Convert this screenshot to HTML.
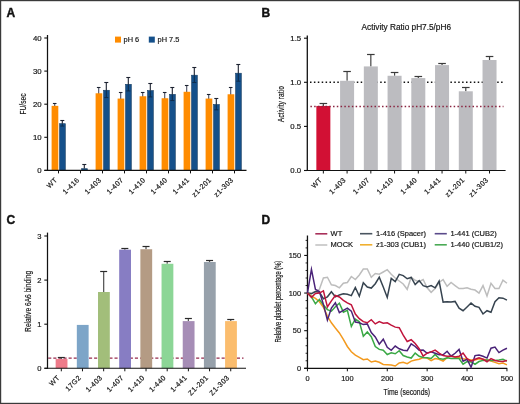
<!DOCTYPE html>
<html><head><meta charset="utf-8"><style>
html,body{margin:0;padding:0;background:#fff;}
body{width:520px;height:404px;overflow:hidden;}
svg{display:block;font-family:"Liberation Sans", sans-serif;filter:blur(0.3px);}
text{stroke:#111;stroke-width:0.18px;paint-order:stroke;}
.xl{letter-spacing:0.45px;}
</style></head><body>
<svg width="520" height="404" viewBox="0 0 520 404">
<rect x="0" y="0" width="520" height="404" fill="#fff"/>
<text x="6.6" y="16.6" font-size="12" text-anchor="start" fill="#111" font-weight="bold" style="stroke-width:0.4px">A</text>
<line x1="47.50" y1="35.00" x2="47.50" y2="170.90" stroke="#111" stroke-width="1.25"/>
<line x1="44.30" y1="170.40" x2="47.50" y2="170.40" stroke="#111" stroke-width="1.1"/>
<text x="41.6" y="173.20000000000002" font-size="7.8" text-anchor="end" fill="#161616" font-weight="normal">0</text>
<line x1="44.30" y1="137.30" x2="47.50" y2="137.30" stroke="#111" stroke-width="1.1"/>
<text x="41.6" y="140.10000000000002" font-size="7.8" text-anchor="end" fill="#161616" font-weight="normal">10</text>
<line x1="44.30" y1="104.20" x2="47.50" y2="104.20" stroke="#111" stroke-width="1.1"/>
<text x="41.6" y="107.0" font-size="7.8" text-anchor="end" fill="#161616" font-weight="normal">20</text>
<line x1="44.30" y1="71.10" x2="47.50" y2="71.10" stroke="#111" stroke-width="1.1"/>
<text x="41.6" y="73.9" font-size="7.8" text-anchor="end" fill="#161616" font-weight="normal">30</text>
<line x1="44.30" y1="38.00" x2="47.50" y2="38.00" stroke="#111" stroke-width="1.1"/>
<text x="41.6" y="40.8" font-size="7.8" text-anchor="end" fill="#161616" font-weight="normal">40</text>
<text x="0" y="0" font-size="9.0" text-anchor="middle" fill="#161616" font-weight="normal" transform="translate(26.0,104.0) rotate(-90) scale(0.74,1)">FU/sec</text>
<line x1="54.70" y1="103.87" x2="54.70" y2="106.86" stroke="#4a4e60" stroke-width="1.1"/>
<line x1="52.90" y1="103.50" x2="56.50" y2="103.50" stroke="#1c2230" stroke-width="1.1"/>
<rect x="51.60" y="105.86" width="6.70" height="64.55" fill="#ff8c00"/>
<rect x="59.60" y="123.70" width="5.70" height="46.70" fill="#15508a" stroke="#163c62" stroke-width="0.6"/>
<line x1="62.30" y1="120.75" x2="62.30" y2="123.40" stroke="#1c2230" stroke-width="1.1"/>
<line x1="62.30" y1="123.40" x2="62.30" y2="126.05" stroke="#0e2c4c" stroke-width="1.0"/>
<line x1="60.30" y1="126.05" x2="64.30" y2="126.05" stroke="#0e2c4c" stroke-width="1.0"/>
<line x1="60.30" y1="120.50" x2="64.30" y2="120.50" stroke="#1c2230" stroke-width="1.1"/>
<line x1="58.50" y1="170.40" x2="58.50" y2="173.40" stroke="#111" stroke-width="1.0"/>
<text x="0" y="0" font-size="7.1" text-anchor="end" fill="#161616" font-weight="normal" transform="translate(57.9,180.3) rotate(-45) scale(1.0,1)" class="xl">WT</text>
<rect x="81.60" y="168.71" width="5.70" height="1.69" fill="#15508a" stroke="#163c62" stroke-width="0.6"/>
<line x1="84.30" y1="164.44" x2="84.30" y2="168.41" stroke="#1c2230" stroke-width="1.1"/>
<line x1="82.30" y1="164.50" x2="86.30" y2="164.50" stroke="#1c2230" stroke-width="1.1"/>
<line x1="80.50" y1="170.40" x2="80.50" y2="173.40" stroke="#111" stroke-width="1.0"/>
<text x="0" y="0" font-size="7.1" text-anchor="end" fill="#161616" font-weight="normal" transform="translate(79.9,180.3) rotate(-45) scale(1.0,1)" class="xl">1-416</text>
<line x1="98.70" y1="87.32" x2="98.70" y2="94.28" stroke="#4a4e60" stroke-width="1.1"/>
<line x1="96.90" y1="87.50" x2="100.50" y2="87.50" stroke="#1c2230" stroke-width="1.1"/>
<rect x="95.60" y="93.28" width="6.70" height="77.12" fill="#ff8c00"/>
<rect x="103.60" y="90.27" width="5.70" height="80.13" fill="#15508a" stroke="#163c62" stroke-width="0.6"/>
<line x1="106.30" y1="82.35" x2="106.30" y2="89.97" stroke="#1c2230" stroke-width="1.1"/>
<line x1="106.30" y1="89.97" x2="106.30" y2="97.58" stroke="#0e2c4c" stroke-width="1.0"/>
<line x1="104.30" y1="97.58" x2="108.30" y2="97.58" stroke="#0e2c4c" stroke-width="1.0"/>
<line x1="104.30" y1="82.50" x2="108.30" y2="82.50" stroke="#1c2230" stroke-width="1.1"/>
<line x1="102.50" y1="170.40" x2="102.50" y2="173.40" stroke="#111" stroke-width="1.0"/>
<text x="0" y="0" font-size="7.1" text-anchor="end" fill="#161616" font-weight="normal" transform="translate(101.9,180.3) rotate(-45) scale(1.0,1)" class="xl">1-403</text>
<line x1="120.70" y1="92.95" x2="120.70" y2="99.57" stroke="#4a4e60" stroke-width="1.1"/>
<line x1="118.90" y1="92.50" x2="122.50" y2="92.50" stroke="#1c2230" stroke-width="1.1"/>
<rect x="117.60" y="98.57" width="6.70" height="71.83" fill="#ff8c00"/>
<rect x="125.60" y="84.31" width="5.70" height="86.09" fill="#15508a" stroke="#163c62" stroke-width="0.6"/>
<line x1="128.30" y1="77.06" x2="128.30" y2="84.01" stroke="#1c2230" stroke-width="1.1"/>
<line x1="128.30" y1="84.01" x2="128.30" y2="90.96" stroke="#0e2c4c" stroke-width="1.0"/>
<line x1="126.30" y1="90.96" x2="130.30" y2="90.96" stroke="#0e2c4c" stroke-width="1.0"/>
<line x1="126.30" y1="77.50" x2="130.30" y2="77.50" stroke="#1c2230" stroke-width="1.1"/>
<line x1="124.50" y1="170.40" x2="124.50" y2="173.40" stroke="#111" stroke-width="1.0"/>
<text x="0" y="0" font-size="7.1" text-anchor="end" fill="#161616" font-weight="normal" transform="translate(123.9,180.3) rotate(-45) scale(1.0,1)" class="xl">1-407</text>
<line x1="142.70" y1="92.78" x2="142.70" y2="97.26" stroke="#4a4e60" stroke-width="1.1"/>
<line x1="140.90" y1="92.50" x2="144.50" y2="92.50" stroke="#1c2230" stroke-width="1.1"/>
<rect x="139.60" y="96.26" width="6.70" height="74.14" fill="#ff8c00"/>
<rect x="147.60" y="90.60" width="5.70" height="79.80" fill="#15508a" stroke="#163c62" stroke-width="0.6"/>
<line x1="150.30" y1="83.68" x2="150.30" y2="90.30" stroke="#1c2230" stroke-width="1.1"/>
<line x1="150.30" y1="90.30" x2="150.30" y2="96.92" stroke="#0e2c4c" stroke-width="1.0"/>
<line x1="148.30" y1="96.92" x2="152.30" y2="96.92" stroke="#0e2c4c" stroke-width="1.0"/>
<line x1="148.30" y1="83.50" x2="152.30" y2="83.50" stroke="#1c2230" stroke-width="1.1"/>
<line x1="146.50" y1="170.40" x2="146.50" y2="173.40" stroke="#111" stroke-width="1.0"/>
<text x="0" y="0" font-size="7.1" text-anchor="end" fill="#161616" font-weight="normal" transform="translate(145.9,180.3) rotate(-45) scale(1.0,1)" class="xl">1-410</text>
<line x1="164.70" y1="92.95" x2="164.70" y2="99.24" stroke="#4a4e60" stroke-width="1.1"/>
<line x1="162.90" y1="92.50" x2="166.50" y2="92.50" stroke="#1c2230" stroke-width="1.1"/>
<rect x="161.60" y="98.24" width="6.70" height="72.16" fill="#ff8c00"/>
<rect x="169.60" y="94.40" width="5.70" height="76.00" fill="#15508a" stroke="#163c62" stroke-width="0.6"/>
<line x1="172.30" y1="87.65" x2="172.30" y2="94.10" stroke="#1c2230" stroke-width="1.1"/>
<line x1="172.30" y1="94.10" x2="172.30" y2="100.56" stroke="#0e2c4c" stroke-width="1.0"/>
<line x1="170.30" y1="100.56" x2="174.30" y2="100.56" stroke="#0e2c4c" stroke-width="1.0"/>
<line x1="170.30" y1="87.50" x2="174.30" y2="87.50" stroke="#1c2230" stroke-width="1.1"/>
<line x1="168.50" y1="170.40" x2="168.50" y2="173.40" stroke="#111" stroke-width="1.0"/>
<text x="0" y="0" font-size="7.1" text-anchor="end" fill="#161616" font-weight="normal" transform="translate(167.9,180.3) rotate(-45) scale(1.0,1)" class="xl">1-440</text>
<line x1="186.70" y1="85.66" x2="186.70" y2="92.79" stroke="#4a4e60" stroke-width="1.1"/>
<line x1="184.90" y1="85.50" x2="188.50" y2="85.50" stroke="#1c2230" stroke-width="1.1"/>
<rect x="183.60" y="91.79" width="6.70" height="78.61" fill="#ff8c00"/>
<rect x="191.60" y="75.21" width="5.70" height="95.19" fill="#15508a" stroke="#163c62" stroke-width="0.6"/>
<line x1="194.30" y1="67.29" x2="194.30" y2="74.91" stroke="#1c2230" stroke-width="1.1"/>
<line x1="194.30" y1="74.91" x2="194.30" y2="82.52" stroke="#0e2c4c" stroke-width="1.0"/>
<line x1="192.30" y1="82.52" x2="196.30" y2="82.52" stroke="#0e2c4c" stroke-width="1.0"/>
<line x1="192.30" y1="67.50" x2="196.30" y2="67.50" stroke="#1c2230" stroke-width="1.1"/>
<line x1="190.50" y1="170.40" x2="190.50" y2="173.40" stroke="#111" stroke-width="1.0"/>
<text x="0" y="0" font-size="7.1" text-anchor="end" fill="#161616" font-weight="normal" transform="translate(189.9,180.3) rotate(-45) scale(1.0,1)" class="xl">1-441</text>
<line x1="208.70" y1="94.60" x2="208.70" y2="99.57" stroke="#4a4e60" stroke-width="1.1"/>
<line x1="206.90" y1="94.50" x2="210.50" y2="94.50" stroke="#1c2230" stroke-width="1.1"/>
<rect x="205.60" y="98.57" width="6.70" height="71.83" fill="#ff8c00"/>
<rect x="213.60" y="104.50" width="5.70" height="65.90" fill="#15508a" stroke="#163c62" stroke-width="0.6"/>
<line x1="216.30" y1="98.57" x2="216.30" y2="104.20" stroke="#1c2230" stroke-width="1.1"/>
<line x1="216.30" y1="104.20" x2="216.30" y2="109.83" stroke="#0e2c4c" stroke-width="1.0"/>
<line x1="214.30" y1="109.83" x2="218.30" y2="109.83" stroke="#0e2c4c" stroke-width="1.0"/>
<line x1="214.30" y1="98.50" x2="218.30" y2="98.50" stroke="#1c2230" stroke-width="1.1"/>
<line x1="212.50" y1="170.40" x2="212.50" y2="173.40" stroke="#111" stroke-width="1.0"/>
<text x="0" y="0" font-size="7.1" text-anchor="end" fill="#161616" font-weight="normal" transform="translate(211.9,180.3) rotate(-45) scale(1.0,1)" class="xl">z1-201</text>
<line x1="230.70" y1="87.82" x2="230.70" y2="95.27" stroke="#4a4e60" stroke-width="1.1"/>
<line x1="228.90" y1="87.50" x2="232.50" y2="87.50" stroke="#1c2230" stroke-width="1.1"/>
<rect x="227.60" y="94.27" width="6.70" height="76.13" fill="#ff8c00"/>
<rect x="235.60" y="73.22" width="5.70" height="97.18" fill="#15508a" stroke="#163c62" stroke-width="0.6"/>
<line x1="238.30" y1="64.65" x2="238.30" y2="72.92" stroke="#1c2230" stroke-width="1.1"/>
<line x1="238.30" y1="72.92" x2="238.30" y2="81.20" stroke="#0e2c4c" stroke-width="1.0"/>
<line x1="236.30" y1="81.20" x2="240.30" y2="81.20" stroke="#0e2c4c" stroke-width="1.0"/>
<line x1="236.30" y1="64.50" x2="240.30" y2="64.50" stroke="#1c2230" stroke-width="1.1"/>
<line x1="234.50" y1="170.40" x2="234.50" y2="173.40" stroke="#111" stroke-width="1.0"/>
<text x="0" y="0" font-size="7.1" text-anchor="end" fill="#161616" font-weight="normal" transform="translate(233.9,180.3) rotate(-45) scale(1.0,1)" class="xl">z1-303</text>
<line x1="44.40" y1="170.40" x2="246.50" y2="170.40" stroke="#111" stroke-width="1.1"/>
<rect x="115.00" y="36.60" width="6.00" height="6.00" fill="#ff8c00"/>
<text x="123.6" y="42.2" font-size="7.4" text-anchor="start" fill="#161616" font-weight="normal">pH 6</text>
<rect x="148.80" y="36.60" width="6.00" height="6.00" fill="#15508a"/>
<text x="157.6" y="42.2" font-size="7.4" text-anchor="start" fill="#161616" font-weight="normal">pH 7.5</text>
<text x="261.4" y="16.6" font-size="12" text-anchor="start" fill="#111" font-weight="bold" style="stroke-width:0.4px">B</text>
<text x="361.6" y="29.9" font-size="8.25" text-anchor="start" fill="#161616" font-weight="normal">Activity Ratio pH7.5/pH6</text>
<line x1="310.00" y1="82.20" x2="503.50" y2="82.20" stroke="#111" stroke-width="1.5" stroke-dasharray="1.5 2.4"/>
<line x1="323.35" y1="104.00" x2="323.35" y2="105.94" stroke="#444" stroke-width="1.2"/>
<line x1="319.55" y1="103.50" x2="327.15" y2="103.50" stroke="#3a3a3a" stroke-width="1.2"/>
<rect x="316.35" y="105.94" width="14.00" height="64.56" fill="#d21034"/>
<line x1="323.35" y1="170.50" x2="323.35" y2="173.50" stroke="#111" stroke-width="1.0"/>
<text x="0" y="0" font-size="7.1" text-anchor="end" fill="#161616" font-weight="normal" transform="translate(322.75,180.3) rotate(-45) scale(1.0,1)" class="xl">WT</text>
<line x1="347.09" y1="71.27" x2="347.09" y2="80.80" stroke="#444" stroke-width="1.2"/>
<line x1="343.29" y1="71.50" x2="350.89" y2="71.50" stroke="#3a3a3a" stroke-width="1.2"/>
<rect x="340.09" y="80.80" width="14.00" height="89.70" fill="#bcbcc0"/>
<line x1="347.09" y1="170.50" x2="347.09" y2="173.50" stroke="#111" stroke-width="1.0"/>
<text x="0" y="0" font-size="7.1" text-anchor="end" fill="#161616" font-weight="normal" transform="translate(346.49,180.3) rotate(-45) scale(1.0,1)" class="xl">1-403</text>
<line x1="370.83" y1="54.69" x2="370.83" y2="66.42" stroke="#444" stroke-width="1.2"/>
<line x1="367.03" y1="54.50" x2="374.63" y2="54.50" stroke="#3a3a3a" stroke-width="1.2"/>
<rect x="363.83" y="66.42" width="14.00" height="104.08" fill="#bcbcc0"/>
<line x1="370.83" y1="170.50" x2="370.83" y2="173.50" stroke="#111" stroke-width="1.0"/>
<text x="0" y="0" font-size="7.1" text-anchor="end" fill="#161616" font-weight="normal" transform="translate(370.23,180.3) rotate(-45) scale(1.0,1)" class="xl">1-407</text>
<line x1="394.57" y1="72.69" x2="394.57" y2="75.77" stroke="#444" stroke-width="1.2"/>
<line x1="390.77" y1="72.50" x2="398.37" y2="72.50" stroke="#3a3a3a" stroke-width="1.2"/>
<rect x="387.57" y="75.77" width="14.00" height="94.73" fill="#bcbcc0"/>
<line x1="394.57" y1="170.50" x2="394.57" y2="173.50" stroke="#111" stroke-width="1.0"/>
<text x="0" y="0" font-size="7.1" text-anchor="end" fill="#161616" font-weight="normal" transform="translate(393.97,180.3) rotate(-45) scale(1.0,1)" class="xl">1-410</text>
<line x1="418.31" y1="76.57" x2="418.31" y2="78.07" stroke="#444" stroke-width="1.2"/>
<line x1="414.51" y1="76.50" x2="422.11" y2="76.50" stroke="#3a3a3a" stroke-width="1.2"/>
<rect x="411.31" y="78.07" width="14.00" height="92.43" fill="#bcbcc0"/>
<line x1="418.31" y1="170.50" x2="418.31" y2="173.50" stroke="#111" stroke-width="1.0"/>
<text x="0" y="0" font-size="7.1" text-anchor="end" fill="#161616" font-weight="normal" transform="translate(417.71,180.3) rotate(-45) scale(1.0,1)" class="xl">1-440</text>
<line x1="442.05" y1="63.51" x2="442.05" y2="65.10" stroke="#444" stroke-width="1.2"/>
<line x1="438.25" y1="63.50" x2="445.85" y2="63.50" stroke="#3a3a3a" stroke-width="1.2"/>
<rect x="435.05" y="65.10" width="14.00" height="105.40" fill="#bcbcc0"/>
<line x1="442.05" y1="170.50" x2="442.05" y2="173.50" stroke="#111" stroke-width="1.0"/>
<text x="0" y="0" font-size="7.1" text-anchor="end" fill="#161616" font-weight="normal" transform="translate(441.45,180.3) rotate(-45) scale(1.0,1)" class="xl">1-441</text>
<line x1="465.79" y1="87.42" x2="465.79" y2="91.30" stroke="#444" stroke-width="1.2"/>
<line x1="461.99" y1="87.50" x2="469.59" y2="87.50" stroke="#3a3a3a" stroke-width="1.2"/>
<rect x="458.79" y="91.30" width="14.00" height="79.20" fill="#bcbcc0"/>
<line x1="465.79" y1="170.50" x2="465.79" y2="173.50" stroke="#111" stroke-width="1.0"/>
<text x="0" y="0" font-size="7.1" text-anchor="end" fill="#161616" font-weight="normal" transform="translate(465.19,180.3) rotate(-45) scale(1.0,1)" class="xl">z1-201</text>
<line x1="489.53" y1="56.99" x2="489.53" y2="59.99" stroke="#444" stroke-width="1.2"/>
<line x1="485.73" y1="56.50" x2="493.33" y2="56.50" stroke="#3a3a3a" stroke-width="1.2"/>
<rect x="482.53" y="59.99" width="14.00" height="110.51" fill="#bcbcc0"/>
<line x1="489.53" y1="170.50" x2="489.53" y2="173.50" stroke="#111" stroke-width="1.0"/>
<text x="0" y="0" font-size="7.1" text-anchor="end" fill="#161616" font-weight="normal" transform="translate(488.92999999999995,180.3) rotate(-45) scale(1.0,1)" class="xl">z1-303</text>
<line x1="310.40" y1="106.50" x2="503.50" y2="106.50" stroke="#8a2440" stroke-width="1.5" stroke-dasharray="1.5 2.27"/>
<line x1="307.30" y1="35.40" x2="307.30" y2="171.00" stroke="#111" stroke-width="1.3"/>
<line x1="304.00" y1="170.50" x2="307.30" y2="170.50" stroke="#111" stroke-width="1.1"/>
<text x="301.2" y="173.3" font-size="7.8" text-anchor="end" fill="#161616" font-weight="normal">0.0</text>
<line x1="304.00" y1="126.40" x2="307.30" y2="126.40" stroke="#111" stroke-width="1.1"/>
<text x="301.2" y="129.20000000000002" font-size="7.8" text-anchor="end" fill="#161616" font-weight="normal">0.5</text>
<line x1="304.00" y1="82.30" x2="307.30" y2="82.30" stroke="#111" stroke-width="1.1"/>
<text x="301.2" y="85.1" font-size="7.8" text-anchor="end" fill="#161616" font-weight="normal">1.0</text>
<line x1="304.00" y1="38.20" x2="307.30" y2="38.20" stroke="#111" stroke-width="1.1"/>
<text x="301.2" y="40.999999999999986" font-size="7.8" text-anchor="end" fill="#161616" font-weight="normal">1.5</text>
<line x1="304.00" y1="170.50" x2="505.60" y2="170.50" stroke="#111" stroke-width="1.1"/>
<text x="0" y="0" font-size="9.0" text-anchor="middle" fill="#161616" font-weight="normal" transform="translate(284.2,104.2) rotate(-90) scale(0.75,1)">Activity ratio</text>
<text x="6.6" y="223.8" font-size="12" text-anchor="start" fill="#111" font-weight="bold" style="stroke-width:0.4px">C</text>
<line x1="48.20" y1="358.10" x2="243.50" y2="358.10" stroke="#962a4c" stroke-width="1.3" stroke-dasharray="3.1 2.0"/>
<line x1="61.30" y1="357.72" x2="61.30" y2="359.04" stroke="#5a5a5a" stroke-width="1.3"/>
<line x1="57.80" y1="357.50" x2="64.80" y2="357.50" stroke="#2a2a2a" stroke-width="1.2"/>
<rect x="55.65" y="359.04" width="11.80" height="9.26" fill="#ee7b8a"/>
<line x1="61.30" y1="368.30" x2="61.30" y2="371.30" stroke="#111" stroke-width="1.0"/>
<text x="0" y="0" font-size="7.1" text-anchor="end" fill="#161616" font-weight="normal" transform="translate(60.5,378.1) rotate(-45) scale(1.0,1)" class="xl">WT</text>
<rect x="76.83" y="324.91" width="11.80" height="43.39" fill="#7da5c8"/>
<line x1="82.48" y1="368.30" x2="82.48" y2="371.30" stroke="#111" stroke-width="1.0"/>
<text x="0" y="0" font-size="7.1" text-anchor="end" fill="#161616" font-weight="normal" transform="translate(81.67999999999999,378.1) rotate(-45) scale(1.0,1)" class="xl">17G2</text>
<line x1="103.66" y1="271.28" x2="103.66" y2="292.01" stroke="#5a5a5a" stroke-width="1.3"/>
<line x1="100.16" y1="271.50" x2="107.16" y2="271.50" stroke="#2a2a2a" stroke-width="1.2"/>
<rect x="98.01" y="292.01" width="11.80" height="76.29" fill="#a2be7a"/>
<line x1="103.66" y1="368.30" x2="103.66" y2="371.30" stroke="#111" stroke-width="1.0"/>
<text x="0" y="0" font-size="7.1" text-anchor="end" fill="#161616" font-weight="normal" transform="translate(102.86,378.1) rotate(-45) scale(1.0,1)" class="xl">1-403</text>
<line x1="124.84" y1="248.13" x2="124.84" y2="249.67" stroke="#5a5a5a" stroke-width="1.3"/>
<line x1="121.34" y1="248.50" x2="128.34" y2="248.50" stroke="#2a2a2a" stroke-width="1.2"/>
<rect x="119.19" y="249.67" width="11.80" height="118.63" fill="#877dc3"/>
<line x1="124.84" y1="368.30" x2="124.84" y2="371.30" stroke="#111" stroke-width="1.0"/>
<text x="0" y="0" font-size="7.1" text-anchor="end" fill="#161616" font-weight="normal" transform="translate(124.04,378.1) rotate(-45) scale(1.0,1)" class="xl">1-407</text>
<line x1="146.02" y1="246.58" x2="146.02" y2="249.23" stroke="#5a5a5a" stroke-width="1.3"/>
<line x1="142.52" y1="246.50" x2="149.52" y2="246.50" stroke="#2a2a2a" stroke-width="1.2"/>
<rect x="140.37" y="249.23" width="11.80" height="119.07" fill="#b49b84"/>
<line x1="146.02" y1="368.30" x2="146.02" y2="371.30" stroke="#111" stroke-width="1.0"/>
<text x="0" y="0" font-size="7.1" text-anchor="end" fill="#161616" font-weight="normal" transform="translate(145.21999999999997,378.1) rotate(-45) scale(1.0,1)" class="xl">1-410</text>
<line x1="167.20" y1="261.58" x2="167.20" y2="263.78" stroke="#5a5a5a" stroke-width="1.3"/>
<line x1="163.70" y1="261.50" x2="170.70" y2="261.50" stroke="#2a2a2a" stroke-width="1.2"/>
<rect x="161.55" y="263.78" width="11.80" height="104.52" fill="#8cd696"/>
<line x1="167.20" y1="368.30" x2="167.20" y2="371.30" stroke="#111" stroke-width="1.0"/>
<text x="0" y="0" font-size="7.1" text-anchor="end" fill="#161616" font-weight="normal" transform="translate(166.39999999999998,378.1) rotate(-45) scale(1.0,1)" class="xl">1-440</text>
<line x1="188.38" y1="318.03" x2="188.38" y2="321.11" stroke="#5a5a5a" stroke-width="1.3"/>
<line x1="184.88" y1="318.50" x2="191.88" y2="318.50" stroke="#2a2a2a" stroke-width="1.2"/>
<rect x="182.73" y="321.11" width="11.80" height="47.19" fill="#a68db6"/>
<line x1="188.38" y1="368.30" x2="188.38" y2="371.30" stroke="#111" stroke-width="1.0"/>
<text x="0" y="0" font-size="7.1" text-anchor="end" fill="#161616" font-weight="normal" transform="translate(187.57999999999998,378.1) rotate(-45) scale(1.0,1)" class="xl">1-441</text>
<line x1="209.56" y1="260.25" x2="209.56" y2="262.02" stroke="#5a5a5a" stroke-width="1.3"/>
<line x1="206.06" y1="260.50" x2="213.06" y2="260.50" stroke="#2a2a2a" stroke-width="1.2"/>
<rect x="203.91" y="262.02" width="11.80" height="106.28" fill="#97a1ab"/>
<line x1="209.56" y1="368.30" x2="209.56" y2="371.30" stroke="#111" stroke-width="1.0"/>
<text x="0" y="0" font-size="7.1" text-anchor="end" fill="#161616" font-weight="normal" transform="translate(208.76,378.1) rotate(-45) scale(1.0,1)" class="xl">Z1-201</text>
<line x1="230.74" y1="319.35" x2="230.74" y2="321.11" stroke="#5a5a5a" stroke-width="1.3"/>
<line x1="227.24" y1="319.50" x2="234.24" y2="319.50" stroke="#2a2a2a" stroke-width="1.2"/>
<rect x="225.09" y="321.11" width="11.80" height="47.19" fill="#fbbd6e"/>
<line x1="230.74" y1="368.30" x2="230.74" y2="371.30" stroke="#111" stroke-width="1.0"/>
<text x="0" y="0" font-size="7.1" text-anchor="end" fill="#161616" font-weight="normal" transform="translate(229.94,378.1) rotate(-45) scale(1.0,1)" class="xl">Z1-303</text>
<line x1="47.50" y1="232.60" x2="47.50" y2="368.80" stroke="#111" stroke-width="1.25"/>
<line x1="44.30" y1="368.30" x2="47.50" y2="368.30" stroke="#111" stroke-width="1.1"/>
<text x="41.4" y="371.0" font-size="7.6" text-anchor="end" fill="#161616" font-weight="normal">0</text>
<line x1="44.30" y1="324.20" x2="47.50" y2="324.20" stroke="#111" stroke-width="1.1"/>
<text x="41.4" y="326.9" font-size="7.6" text-anchor="end" fill="#161616" font-weight="normal">1</text>
<line x1="44.30" y1="280.10" x2="47.50" y2="280.10" stroke="#111" stroke-width="1.1"/>
<text x="41.4" y="282.8" font-size="7.6" text-anchor="end" fill="#161616" font-weight="normal">2</text>
<line x1="44.30" y1="236.00" x2="47.50" y2="236.00" stroke="#111" stroke-width="1.1"/>
<text x="41.4" y="238.7" font-size="7.6" text-anchor="end" fill="#161616" font-weight="normal">3</text>
<line x1="44.50" y1="368.30" x2="246.00" y2="368.30" stroke="#111" stroke-width="1.1"/>
<text x="0" y="0" font-size="9.0" text-anchor="middle" fill="#161616" font-weight="normal" transform="translate(30.9,301.4) rotate(-90) scale(0.74,1)">Relative 6A6 binding</text>
<text x="261.6" y="223.7" font-size="12" text-anchor="start" fill="#111" font-weight="bold" style="stroke-width:0.4px">D</text>
<line x1="307.45" y1="235.50" x2="307.45" y2="368.80" stroke="#111" stroke-width="1.3"/>
<line x1="304.20" y1="368.30" x2="307.45" y2="368.30" stroke="#111" stroke-width="1.1"/>
<text x="301.0" y="370.90000000000003" font-size="7.4" text-anchor="end" fill="#161616" font-weight="normal">0</text>
<line x1="305.60" y1="360.78" x2="307.45" y2="360.78" stroke="#111" stroke-width="0.9"/>
<line x1="305.60" y1="353.25" x2="307.45" y2="353.25" stroke="#111" stroke-width="0.9"/>
<line x1="305.60" y1="345.73" x2="307.45" y2="345.73" stroke="#111" stroke-width="0.9"/>
<line x1="305.60" y1="338.20" x2="307.45" y2="338.20" stroke="#111" stroke-width="0.9"/>
<line x1="304.20" y1="330.68" x2="307.45" y2="330.68" stroke="#111" stroke-width="1.1"/>
<text x="301.0" y="333.27500000000003" font-size="7.4" text-anchor="end" fill="#161616" font-weight="normal">50</text>
<line x1="305.60" y1="323.15" x2="307.45" y2="323.15" stroke="#111" stroke-width="0.9"/>
<line x1="305.60" y1="315.62" x2="307.45" y2="315.62" stroke="#111" stroke-width="0.9"/>
<line x1="305.60" y1="308.10" x2="307.45" y2="308.10" stroke="#111" stroke-width="0.9"/>
<line x1="305.60" y1="300.58" x2="307.45" y2="300.58" stroke="#111" stroke-width="0.9"/>
<line x1="304.20" y1="293.05" x2="307.45" y2="293.05" stroke="#111" stroke-width="1.1"/>
<text x="301.0" y="295.65000000000003" font-size="7.4" text-anchor="end" fill="#161616" font-weight="normal">100</text>
<line x1="305.60" y1="285.53" x2="307.45" y2="285.53" stroke="#111" stroke-width="0.9"/>
<line x1="305.60" y1="278.00" x2="307.45" y2="278.00" stroke="#111" stroke-width="0.9"/>
<line x1="305.60" y1="270.48" x2="307.45" y2="270.48" stroke="#111" stroke-width="0.9"/>
<line x1="305.60" y1="262.95" x2="307.45" y2="262.95" stroke="#111" stroke-width="0.9"/>
<line x1="304.20" y1="255.43" x2="307.45" y2="255.43" stroke="#111" stroke-width="1.1"/>
<text x="301.0" y="258.02500000000003" font-size="7.4" text-anchor="end" fill="#161616" font-weight="normal">150</text>
<line x1="305.60" y1="247.90" x2="307.45" y2="247.90" stroke="#111" stroke-width="0.9"/>
<line x1="305.60" y1="240.38" x2="307.45" y2="240.38" stroke="#111" stroke-width="0.9"/>
<line x1="304.20" y1="368.30" x2="507.20" y2="368.30" stroke="#111" stroke-width="1.2"/>
<line x1="307.45" y1="368.30" x2="307.45" y2="371.30" stroke="#111" stroke-width="1.0"/>
<text x="307.45" y="381.4" font-size="7.4" text-anchor="middle" fill="#161616" font-weight="normal">0</text>
<line x1="347.35" y1="368.30" x2="347.35" y2="371.30" stroke="#111" stroke-width="1.0"/>
<text x="347.35" y="381.4" font-size="7.4" text-anchor="middle" fill="#161616" font-weight="normal">100</text>
<line x1="387.25" y1="368.30" x2="387.25" y2="371.30" stroke="#111" stroke-width="1.0"/>
<text x="387.25" y="381.4" font-size="7.4" text-anchor="middle" fill="#161616" font-weight="normal">200</text>
<line x1="427.15" y1="368.30" x2="427.15" y2="371.30" stroke="#111" stroke-width="1.0"/>
<text x="427.15" y="381.4" font-size="7.4" text-anchor="middle" fill="#161616" font-weight="normal">300</text>
<line x1="467.05" y1="368.30" x2="467.05" y2="371.30" stroke="#111" stroke-width="1.0"/>
<text x="467.05" y="381.4" font-size="7.4" text-anchor="middle" fill="#161616" font-weight="normal">400</text>
<line x1="506.95" y1="368.30" x2="506.95" y2="371.30" stroke="#111" stroke-width="1.0"/>
<text x="506.95" y="381.4" font-size="7.4" text-anchor="middle" fill="#161616" font-weight="normal">500</text>
<text x="0" y="0" font-size="9.0" text-anchor="middle" fill="#161616" font-weight="normal" transform="translate(406.8,394.5) rotate(0) scale(0.755,1)">Time (seconds)</text>
<text x="0" y="0" font-size="8.6" text-anchor="middle" fill="#161616" font-weight="normal" transform="translate(281.2,301.7) rotate(-90) scale(0.67,1)">Relative platelet percentage (%)</text>
<polyline points="307.45,293.05 311.44,293.05 315.43,291.55 319.42,289.29 323.41,278.00 327.40,277.25 331.39,284.77 335.38,285.53 339.37,287.78 343.36,283.27 347.35,282.51 351.34,276.50 355.33,279.50 359.32,274.99 363.31,268.97 367.30,268.97 371.29,277.25 375.28,273.49 379.27,274.24 383.26,271.98 387.25,269.72 391.24,274.24 395.23,278.00 399.22,281.01 403.21,284.02 407.20,289.29 411.19,277.25 415.18,280.26 419.17,281.76 423.16,279.50 427.15,287.78 431.14,292.30 435.13,288.54 439.12,282.51 443.11,279.50 447.10,286.28 451.09,282.51 455.08,285.53 459.07,288.54 463.06,288.54 467.05,287.78 471.04,289.29 475.03,290.04 479.02,293.05 483.01,285.53 487.00,296.06 490.99,283.27 494.98,288.54 498.97,288.54 502.96,280.26 506.95,283.27" fill="none" stroke="#bdbdbd" stroke-width="1.5" stroke-linejoin="miter" stroke-miterlimit="6"/>
<polyline points="307.45,293.05 311.44,293.80 315.43,291.55 319.42,292.30 323.41,298.69 327.40,296.81 331.39,291.77 335.38,296.81 339.37,294.93 343.36,293.80 347.35,294.33 351.34,295.61 355.33,287.48 359.32,296.21 363.31,282.82 367.30,287.03 371.29,288.08 375.28,283.72 379.27,277.10 383.26,287.03 387.25,297.41 391.24,278.38 395.23,281.61 399.22,274.39 403.21,275.59 407.20,278.75 411.19,277.47 415.18,284.62 419.17,280.63 423.16,285.60 427.15,287.03 431.14,285.53 435.13,287.78 439.12,281.01 443.11,302.08 447.10,301.70 451.09,302.08 455.08,301.40 459.07,308.25 463.06,310.73 467.05,306.97 471.04,303.06 475.03,306.29 479.02,307.35 483.01,313.97 487.00,310.73 490.99,312.31 494.98,301.78 498.97,297.72 502.96,298.17 506.95,300.12" fill="none" stroke="#36434f" stroke-width="1.5" stroke-linejoin="miter" stroke-miterlimit="6"/>
<polyline points="307.45,293.05 311.44,296.14 315.43,298.32 319.42,301.70 323.41,307.20 327.40,316.08 331.39,322.77 335.38,328.04 339.37,332.93 343.36,339.33 347.35,346.48 351.34,351.75 355.33,355.13 359.32,357.46 363.31,359.72 367.30,358.97 371.29,362.05 375.28,360.93 379.27,362.28 383.26,364.39 387.25,364.69 391.24,364.91 395.23,366.04 399.22,362.96 403.21,362.28 407.20,363.63 411.19,361.15 415.18,359.95 419.17,359.27 423.16,357.46 427.15,358.07 431.14,360.55 435.13,358.52 439.12,359.27 443.11,361.15 447.10,357.76 451.09,355.58 455.08,357.01 459.07,357.76 463.06,358.67 467.05,359.27 471.04,360.02 475.03,360.02 479.02,358.67 483.01,359.27 487.00,360.02 490.99,361.15 494.98,362.36 498.97,363.63 502.96,363.03 506.95,364.84" fill="none" stroke="#f39a1e" stroke-width="1.5" stroke-linejoin="miter" stroke-miterlimit="6"/>
<polyline points="307.45,293.05 311.44,296.81 315.43,303.81 319.42,299.37 323.41,305.09 327.40,309.61 331.39,311.19 335.38,306.75 339.37,303.28 343.36,312.16 347.35,310.21 351.34,326.39 355.33,319.01 359.32,321.65 363.31,336.24 367.30,331.95 371.29,336.69 375.28,346.63 379.27,349.41 383.26,350.24 387.25,354.53 391.24,352.87 395.23,353.78 399.22,350.69 403.21,355.58 407.20,357.01 411.19,358.07 415.18,353.10 419.17,356.26 423.16,357.46 427.15,357.76 431.14,358.52 435.13,354.38 439.12,358.52 443.11,359.27 447.10,357.76 451.09,358.52 455.08,358.52 459.07,358.52 463.06,364.24 467.05,361.53 471.04,361.90 475.03,364.24 479.02,361.53 483.01,360.40 487.00,360.02 490.99,360.40 494.98,360.40 498.97,360.02 502.96,359.35 506.95,361.15" fill="none" stroke="#3aa845" stroke-width="1.5" stroke-linejoin="miter" stroke-miterlimit="6"/>
<polyline points="307.45,293.05 311.44,269.35 315.43,289.29 319.42,291.55 323.41,304.34 327.40,320.14 331.39,308.10 335.38,302.83 339.37,312.62 343.36,310.36 347.35,308.10 351.34,311.11 355.33,322.10 359.32,322.77 363.31,324.58 367.30,323.90 371.29,332.56 375.28,336.92 379.27,344.22 383.26,339.18 387.25,347.23 391.24,350.24 395.23,346.10 399.22,348.81 403.21,350.24 407.20,350.69 411.19,343.84 415.18,346.48 419.17,350.24 423.16,350.09 427.15,353.25 431.14,351.75 435.13,353.25 439.12,354.75 443.11,354.75 447.10,351.29 451.09,356.18 455.08,353.25 459.07,349.41 463.06,361.15 467.05,359.27 471.04,367.32 475.03,355.58 479.02,354.98 483.01,356.26 487.00,358.07 490.99,348.21 494.98,347.00 498.97,352.57 502.96,350.09 506.95,348.21" fill="none" stroke="#4a2378" stroke-width="1.5" stroke-linejoin="miter" stroke-miterlimit="6"/>
<polyline points="307.45,293.05 311.44,297.34 315.43,293.43 319.42,293.05 323.41,290.79 327.40,306.82 331.39,300.88 335.38,295.46 339.37,296.96 343.36,300.35 347.35,302.83 351.34,304.79 355.33,314.12 359.32,318.63 363.31,321.65 367.30,322.77 371.29,319.76 375.28,323.90 379.27,321.65 383.26,323.15 387.25,322.77 391.24,325.18 395.23,327.14 399.22,327.67 403.21,335.19 407.20,341.44 411.19,339.71 415.18,343.47 419.17,348.74 423.16,356.18 427.15,353.10 431.14,351.90 435.13,350.09 439.12,353.10 443.11,355.58 447.10,356.18 451.09,356.18 455.08,357.01 459.07,356.26 463.06,353.10 467.05,358.67 471.04,361.15 475.03,359.27 479.02,357.76 483.01,359.27 487.00,361.75 490.99,358.67 494.98,360.55 498.97,361.15 502.96,361.53 506.95,360.55" fill="none" stroke="#c0143c" stroke-width="1.5" stroke-linejoin="miter" stroke-miterlimit="6"/>
<line x1="315.30" y1="233.80" x2="327.30" y2="233.80" stroke="#a8305a" stroke-width="1.6"/>
<text x="330.6" y="236.20000000000002" font-size="7.5" text-anchor="start" fill="#161616" font-weight="normal">WT</text>
<line x1="315.30" y1="245.00" x2="327.30" y2="245.00" stroke="#c4c4c4" stroke-width="1.6"/>
<text x="330.6" y="247.4" font-size="7.5" text-anchor="start" fill="#161616" font-weight="normal">MOCK</text>
<line x1="360.00" y1="233.70" x2="372.30" y2="233.70" stroke="#4a5560" stroke-width="1.6"/>
<text x="376.0" y="236.1" font-size="7.5" text-anchor="start" fill="#161616" font-weight="normal">1-416 (Spacer)</text>
<line x1="360.00" y1="244.80" x2="372.30" y2="244.80" stroke="#f0b030" stroke-width="1.6"/>
<text x="376.0" y="247.20000000000002" font-size="7.5" text-anchor="start" fill="#161616" font-weight="normal">z1-303 (CUB1)</text>
<line x1="434.70" y1="233.70" x2="446.80" y2="233.70" stroke="#5a4a8a" stroke-width="1.6"/>
<text x="450.4" y="236.1" font-size="7.5" text-anchor="start" fill="#161616" font-weight="normal">1-441 (CUB2)</text>
<line x1="434.70" y1="244.80" x2="446.80" y2="244.80" stroke="#4aaa55" stroke-width="1.6"/>
<text x="450.4" y="247.20000000000002" font-size="7.5" text-anchor="start" fill="#161616" font-weight="normal">1-440 (CUB1/2)</text>
<rect x="0.6" y="0.6" width="518.8" height="402.8" fill="none" stroke="#3a3a3a" stroke-width="1.2"/>
</svg>
</body></html>
